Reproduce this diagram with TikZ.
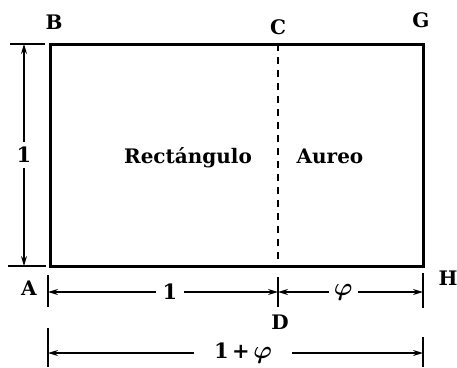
\RequirePackage{fix-cm}
\documentclass[tikz,border=0pt]{standalone}
\usepackage{fontspec}
\newfontfamily\labelfont{DejaVu Serif}
\usetikzlibrary{arrows.meta}
\begin{document}
\begin{tikzpicture}[x=1pt, y=-1pt, >={Stealth[length=10pt,width=6pt]},
  lbl/.style={font=\labelfont\bfseries\fontsize{20}{24}\selectfont, inner sep=0pt},
  dim/.style={<->, line width=1.3pt},
  ext/.style={line width=1.3pt},
  gap/.style={fill=white, inner xsep=5pt, inner ysep=3pt, font=\labelfont\bfseries\boldmath\fontsize{21}{25}\selectfont}]
\useasboundingbox (0,0) rectangle (457,367);
% corners of the rectangle
\coordinate (A) at (50,266);
\coordinate (B) at (50,44);
\coordinate (C) at (278,44);
\coordinate (G) at (423,44);
\coordinate (H) at (423,266);
\coordinate (D) at (278,266);

\draw[line width=3pt, line join=miter] (A) rectangle (G);
\draw[line width=1.4pt, dash pattern=on 7pt off 6pt] (C) -- (D);

\node[lbl] (lB) at (54,22) {B};
\node[lbl] (lC) at (278,27) {C};
\node[lbl] (lG) at (421,20) {G};
\node[lbl] (lH) at (448,278) {H};
\node[lbl] (lA) at (29,288) {A};
\node[lbl] (lD) at (280,322) {D};

\node[lbl, anchor=base] (rect) at (188,163) {Rectángulo};
\node[lbl, anchor=base] (aureo) at (330,163) {Aureo};

% left dimension
\coordinate (bt1) at (10,44);
\coordinate (bt2) at (45,44);
\coordinate (bb1) at (8,266);
\coordinate (bb2) at (46,266);
\draw[ext] (bt1) -- (bt2);
\draw[ext] (bb1) -- (bb2);
\coordinate (v1) at (24,44);
\coordinate (v2) at (24,266);
\draw[dim] (v1) -- node[gap, inner ysep=5pt] (one1) {1} (v2);

% bottom ticks
\coordinate (t1a) at (48,275);
\coordinate (t1b) at (48,307);
\coordinate (t2a) at (278,277);
\coordinate (t2b) at (278,307);
\coordinate (t3a) at (423,273);
\coordinate (t3b) at (423,308);
\coordinate (t4a) at (48,328);
\coordinate (t4b) at (48,367);
\coordinate (t5a) at (423,337);
\coordinate (t5b) at (423,367);
\draw[ext] (t1a) -- (t1b);
\draw[ext] (t2a) -- (t2b);
\draw[ext] (t3a) -- (t3b);
\draw[ext] (t4a) -- (t4b);
\draw[ext] (t5a) -- (t5b);

% bottom dimensions
\coordinate (h1) at (48,292);
\coordinate (h2) at (278,292);
\coordinate (h3) at (423,292);
\coordinate (k1) at (48,353);
\coordinate (k2) at (423,353);
\draw[dim] (h1) -- node[gap, pos=0.53, inner xsep=7pt] (one2) {1} (h2);
\draw[dim] (h2) -- node[gap, pos=0.45] (phi) {\fontsize{25}{28}\selectfont$\varphi$} (h3);
\draw[dim] (k1) -- node[gap, pos=0.52, inner xsep=20pt] (onephi) {1\,+\,\fontsize{25}{28}\selectfont$\varphi$} (k2);
\end{tikzpicture}
\end{document}
